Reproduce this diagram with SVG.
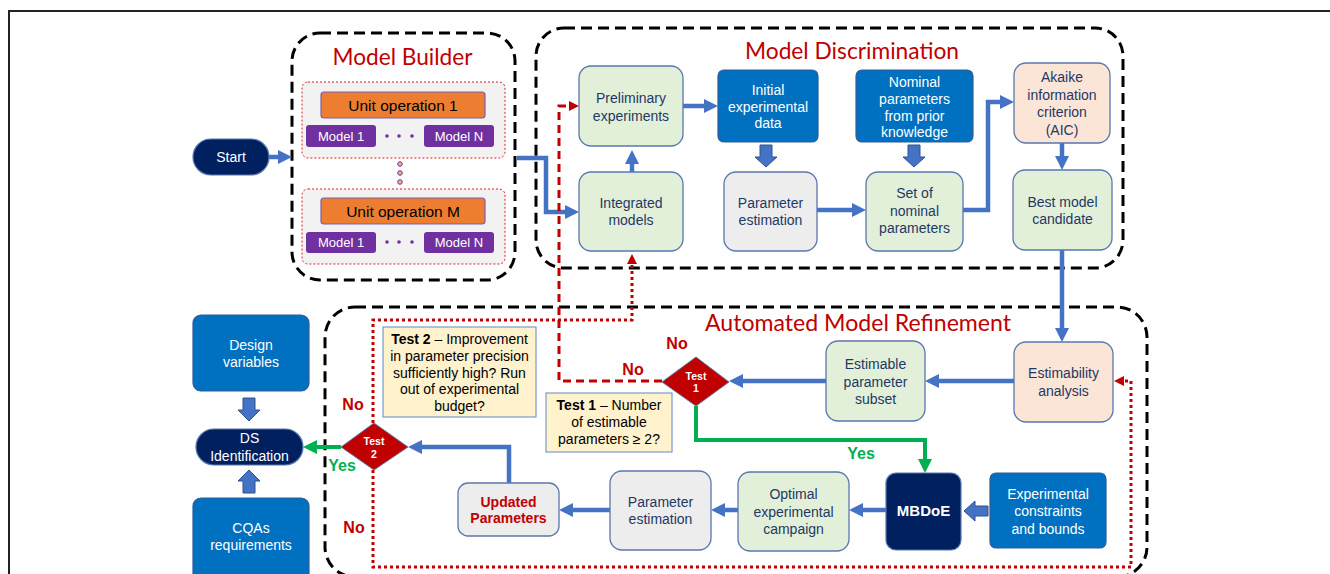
<svg xmlns="http://www.w3.org/2000/svg" width="1330" height="574" viewBox="0 0 1330 574">
<defs>
<style>
.t{font-family:"Liberation Sans",Arial,sans-serif;font-size:14px;text-anchor:middle;fill:#1F3864}
.w{fill:#fff}
.b{font-weight:bold}
.ttl{font-family:Lato,"Open Sans",sans-serif;font-size:23px;fill:#C00000;text-anchor:middle}
.lbl{font-family:"Liberation Sans",Arial,sans-serif;font-size:16px;font-weight:bold;text-anchor:middle}
.reg{fill:none;stroke:#000;stroke-width:3;stroke-dasharray:11 6}
.grn{fill:#E2F0D9;stroke:#5A77AE;stroke-width:1.3}
.gry{fill:#EDEDED;stroke:#5A77AE;stroke-width:1.3}
.pch{fill:#FBE5D6;stroke:#5A77AE;stroke-width:1.3}
.blu{fill:#0070C0;stroke:#2F5C9A;stroke-width:1.2}
.nav{fill:#002060;stroke:#5A77AE;stroke-width:1.2}
.tst{fill:#FFF2CC;stroke:#7A9CCB;stroke-width:1.2}
.grp{fill:#F2F2F2;stroke:#E02020;stroke-width:1;stroke-dasharray:2 2}
.uop{fill:#ED7D31;stroke:#7F5FA5;stroke-width:1.2}
.mdl{fill:#7030A0}
.mt{font-family:"Liberation Sans",Arial,sans-serif;font-size:13px;text-anchor:middle;fill:#fff}
.ut{font-family:"Liberation Sans",Arial,sans-serif;font-size:15.5px;text-anchor:middle;fill:#000}
.ca{fill:none;stroke:#4472C4;stroke-width:4.5;marker-end:url(#ab)}
.cg{fill:none;stroke:#00B050;stroke-width:4;marker-end:url(#ag)}
.rd{fill:none;stroke:#C00000;stroke-width:3;stroke-dasharray:8 5;marker-end:url(#ar)}
.rdot{fill:none;stroke:#C00000;stroke-width:3;stroke-dasharray:3 3}
.blk{fill:#4472C4;stroke:#2F528F;stroke-width:1}
.dia{fill:#C00000;stroke:#5A77AE;stroke-width:1}
.dt{font-family:"Liberation Sans",Arial,sans-serif;font-size:10.5px;font-weight:bold;text-anchor:middle;fill:#fff}
</style>
<marker id="ab" markerUnits="userSpaceOnUse" markerWidth="14" markerHeight="14" viewBox="0 0 14 14" refX="2" refY="7" orient="auto"><path d="M0,0 L14,7 L0,14 z" fill="#4472C4"/></marker>
<marker id="ag" markerUnits="userSpaceOnUse" markerWidth="14" markerHeight="14" viewBox="0 0 14 14" refX="2" refY="7" orient="auto"><path d="M0,0 L14,7 L0,14 z" fill="#00B050"/></marker>
<marker id="ar" markerUnits="userSpaceOnUse" markerWidth="10" markerHeight="10" viewBox="0 0 10 10" refX="2" refY="5" orient="auto"><path d="M0,0 L10,5 L0,10 z" fill="#C00000"/></marker>
</defs>
<rect width="1330" height="574" fill="#fff"/>
<rect x="9" y="11" width="1340" height="600" fill="none" stroke="#222" stroke-width="2"/>

<g id="regions">
<rect class="reg" x="292" y="33" width="223" height="247" rx="28"/>
<rect class="reg" x="536" y="28" width="587" height="240" rx="28"/>
<rect class="reg" x="325" y="307" width="822" height="270" rx="30"/>
<text class="ttl" x="402.5" y="65" textLength="140" lengthAdjust="spacingAndGlyphs">Model Builder</text>
<text class="ttl" x="852" y="59" textLength="214" lengthAdjust="spacingAndGlyphs">Model Discrimination</text>
<text class="ttl" x="858" y="331" textLength="306" lengthAdjust="spacingAndGlyphs">Automated Model Refinement</text>
</g>

<g id="connectors">
<line class="ca" x1="269" y1="157" x2="280" y2="157"/>
<polyline class="ca" points="517,158 546,158 546,212 567,212"/>
<line class="ca" x1="632" y1="172" x2="632" y2="162"/>
<line class="ca" x1="683" y1="106" x2="706" y2="106"/>
<line class="ca" x1="817" y1="210" x2="854" y2="210"/>
<polyline class="ca" points="963,210 988,210 988,102 1002,102"/>
<line class="ca" x1="1062" y1="143" x2="1062" y2="158"/>
<line class="ca" x1="1062" y1="250" x2="1062" y2="330"/>
<line class="ca" x1="1014" y1="381" x2="937" y2="381"/>
<line class="ca" x1="826" y1="381" x2="741" y2="381"/>
<polyline class="cg" points="696,406 696,440 925,440 925,461"/>
<line class="ca" x1="886" y1="510" x2="861" y2="510"/>
<line class="ca" x1="738" y1="510" x2="723" y2="510"/>
<line class="ca" x1="610" y1="510" x2="571" y2="510"/>
<polyline class="ca" points="509,483 509,447 420,447"/>
<line class="cg" x1="341" y1="447" x2="315" y2="447"/>
<path class="blk" d="M760,145 H772 V157 H777 L766,167 L755,157 H760 Z"/>
<path class="blk" d="M908,145 H920 V157 H925 L914,167 L903,157 H908 Z"/>
<path class="blk" d="M988,506 V516 H975 V521 L964,511 L975,501 V506 Z"/>
<path class="blk" d="M243,398 H255 V410 H260 L249,421 L238,410 H243 Z"/>
<path class="blk" d="M243,493 H255 V481 H260 L249,470 L238,481 H243 Z"/>
<polyline class="rd" points="662,381 559,381 559,106 571,106"/>
<polyline class="rdot" points="373,423 373,320 632,320 632,262" marker-end="url(#ar)"/>
<polyline class="rdot" points="373,470 373,567 1131,567 1131,381 1122,381" marker-end="url(#ar)"/>
</g>

<g id="start">
<rect class="nav" x="193" y="139" width="76" height="36" rx="18"/>
<text class="t w" x="231" y="162">Start</text>
</g>

<g id="unit-op-1">
<rect class="grp" x="302" y="82" width="203" height="76" rx="6"/>
<rect class="uop" x="321" y="92" width="164" height="26" rx="3"/>
<text class="ut" x="403" y="111">Unit operation 1</text>
<rect class="mdl" x="306" y="125" width="70" height="22" rx="3"/>
<text class="mt" x="341" y="141">Model 1</text>
<rect class="mdl" x="424" y="125" width="70" height="22" rx="3"/>
<text class="mt" x="459" y="141">Model N</text>
<circle cx="387" cy="136" r="1.8" fill="#7030A0"/>
<circle cx="399" cy="136" r="1.8" fill="#7030A0"/>
<circle cx="412" cy="136" r="1.8" fill="#7030A0"/>
</g>
<g id="vdots">
<circle cx="400" cy="164" r="2.3" fill="#F4B183" stroke="#7030A0" stroke-width="1"/>
<circle cx="400" cy="173" r="2.3" fill="#F4B183" stroke="#7030A0" stroke-width="1"/>
<circle cx="400" cy="182" r="2.3" fill="#F4B183" stroke="#7030A0" stroke-width="1"/>
</g>
<g id="unit-op-m">
<rect class="grp" x="302" y="189" width="203" height="75" rx="6"/>
<rect class="uop" x="321" y="198" width="164" height="26" rx="3"/>
<text class="ut" x="403" y="217">Unit operation M</text>
<rect class="mdl" x="306" y="232" width="70" height="21" rx="3"/>
<text class="mt" x="341" y="247">Model 1</text>
<rect class="mdl" x="424" y="232" width="70" height="21" rx="3"/>
<text class="mt" x="459" y="247">Model N</text>
<circle cx="387" cy="242" r="1.8" fill="#7030A0"/>
<circle cx="399" cy="242" r="1.8" fill="#7030A0"/>
<circle cx="412" cy="242" r="1.8" fill="#7030A0"/>
</g>

<g id="preliminary">
<rect class="grn" x="579" y="66" width="104" height="80" rx="12"/>
<text class="t" x="631" y="103">Preliminary</text>
<text class="t" x="631" y="121">experiments</text>
</g>
<g id="integrated">
<rect class="grn" x="579" y="172" width="104" height="79" rx="12"/>
<text class="t" x="631" y="208">Integrated</text>
<text class="t" x="631" y="225">models</text>
</g>
<g id="initial-data">
<rect class="blu" x="718" y="70" width="100" height="72" rx="6"/>
<text class="t w" x="768" y="95">Initial</text>
<text class="t w" x="768" y="112">experimental</text>
<text class="t w" x="768" y="128">data</text>
</g>
<g id="param-est-1">
<rect class="gry" x="724" y="172" width="93" height="79" rx="12"/>
<text class="t" x="770.5" y="208">Parameter</text>
<text class="t" x="770.5" y="225">estimation</text>
</g>
<g id="nominal-prior">
<rect class="blu" x="856" y="70" width="117" height="72" rx="6"/>
<text class="t w" x="914.5" y="87">Nominal</text>
<text class="t w" x="914.5" y="104">parameters</text>
<text class="t w" x="914.5" y="121">from prior</text>
<text class="t w" x="914.5" y="137">knowledge</text>
</g>
<g id="nominal-set">
<rect class="grn" x="866" y="172" width="97" height="79" rx="12"/>
<text class="t" x="914.5" y="198">Set of</text>
<text class="t" x="914.5" y="216">nominal</text>
<text class="t" x="914.5" y="233">parameters</text>
</g>
<g id="aic">
<rect class="pch" x="1014" y="63" width="96" height="80" rx="12"/>
<text class="t" x="1062" y="82">Akaike</text>
<text class="t" x="1062" y="100">information</text>
<text class="t" x="1062" y="117">criterion</text>
<text class="t" x="1062" y="135">(AIC)</text>
</g>
<g id="best-model">
<rect class="grn" x="1013" y="170" width="99" height="80" rx="12"/>
<text class="t" x="1062.5" y="207">Best model</text>
<text class="t" x="1062.5" y="224">candidate</text>
</g>

<g id="estimability">
<rect class="pch" x="1014" y="342" width="99" height="80" rx="12"/>
<text class="t" x="1063.5" y="378">Estimability</text>
<text class="t" x="1063.5" y="396">analysis</text>
</g>
<g id="estimable-subset">
<rect class="grn" x="826" y="341" width="99" height="80" rx="12"/>
<text class="t" x="875.5" y="369">Estimable</text>
<text class="t" x="875.5" y="387">parameter</text>
<text class="t" x="875.5" y="404">subset</text>
</g>
<g id="test1">
<polygon class="dia" points="696,357 729,382 696,406 662,382"/>
<text class="dt" x="696" y="380">Test</text>
<text class="dt" x="696" y="392">1</text>
</g>
<g id="test1-note">
<rect class="tst" x="546" y="393" width="126" height="59"/>
<text class="t" x="609" y="410" fill="#000" style="fill:#000"><tspan font-weight="bold">Test 1</tspan> – Number</text>
<text class="t" x="609" y="427" style="fill:#000">of estimable</text>
<text class="t" x="609" y="444" style="fill:#000">parameters ≥ 2?</text>
</g>
<g id="mbdoe">
<rect class="nav" x="886" y="473" width="75" height="77" rx="10"/>
<text class="t w b" x="923.5" y="516" style="font-size:15px">MBDoE</text>
</g>
<g id="exp-constraints">
<rect class="blu" x="990" y="473" width="116" height="75" rx="6"/>
<text class="t w" x="1048" y="499">Experimental</text>
<text class="t w" x="1048" y="516">constraints</text>
<text class="t w" x="1048" y="534">and bounds</text>
</g>
<g id="optimal-campaign">
<rect class="grn" x="738" y="472" width="111" height="79" rx="12"/>
<text class="t" x="793.5" y="499">Optimal</text>
<text class="t" x="793.5" y="517">experimental</text>
<text class="t" x="793.5" y="534">campaign</text>
</g>
<g id="param-est-2">
<rect class="gry" x="610" y="471" width="101" height="79" rx="12"/>
<text class="t" x="660.5" y="507">Parameter</text>
<text class="t" x="660.5" y="524">estimation</text>
</g>
<g id="updated-params">
<rect class="gry" x="458" y="483" width="101" height="53" rx="10"/>
<text class="t b" x="508.5" y="507" style="fill:#C00000">Updated</text>
<text class="t b" x="508.5" y="523" style="fill:#C00000">Parameters</text>
</g>
<g id="test2">
<polygon class="dia" points="374,423 408,447 374,470 341,447"/>
<text class="dt" x="374" y="445">Test</text>
<text class="dt" x="374" y="458">2</text>
</g>
<g id="test2-note">
<rect class="tst" x="383" y="327" width="153" height="90"/>
<text class="t" x="459.5" y="344" style="fill:#000"><tspan font-weight="bold">Test 2</tspan> – Improvement</text>
<text class="t" x="459.5" y="361" style="fill:#000">in parameter precision</text>
<text class="t" x="459.5" y="378" style="fill:#000">sufficiently high? Run</text>
<text class="t" x="459.5" y="394" style="fill:#000">out of experimental</text>
<text class="t" x="459.5" y="411" style="fill:#000">budget?</text>
</g>

<g id="design-vars">
<rect class="blu" x="193" y="315" width="116" height="76" rx="8"/>
<text class="t w" x="251" y="350">Design</text>
<text class="t w" x="251" y="367">variables</text>
</g>
<g id="ds-identification">
<rect class="nav" x="196" y="429" width="107" height="36" rx="18"/>
<text class="t w" x="249.5" y="443">DS</text>
<text class="t w" x="249.5" y="461">Identification</text>
</g>
<g id="cqas">
<rect class="blu" x="193" y="498" width="116" height="90" rx="8"/>
<text class="t w" x="251" y="533">CQAs</text>
<text class="t w" x="251" y="550">requirements</text>
</g>

<g id="labels">
<text class="lbl" x="677" y="349" fill="#C00000">No</text>
<text class="lbl" x="633" y="375" fill="#C00000">No</text>
<text class="lbl" x="353" y="410" fill="#C00000">No</text>
<text class="lbl" x="354" y="533" fill="#C00000">No</text>
<text class="lbl" x="861" y="459" fill="#00B050">Yes</text>
<text class="lbl" x="342" y="471" fill="#00B050">Yes</text>
</g>
</svg>
